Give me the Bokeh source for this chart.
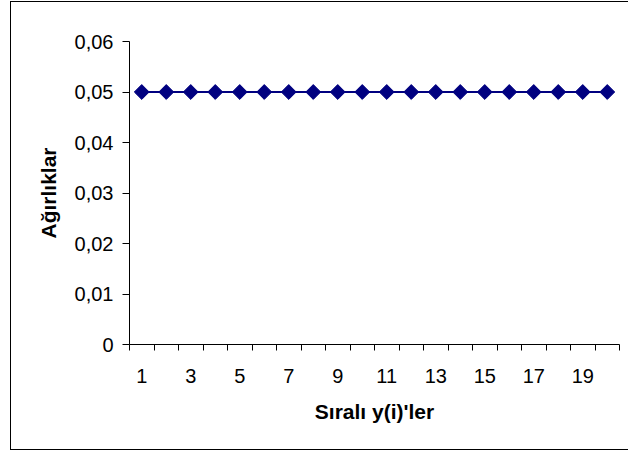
import math

from bokeh.embed import file_html
from bokeh.models import ColumnDataSource, CustomJSTickFormatter, FixedTicker, Range1d
from bokeh.plotting import figure
from bokeh.resources import INLINE

# Sıra numaraları ve her birine ait ağırlık
order = [1, 2, 3, 4, 5, 6, 7, 8, 9, 10, 11, 12, 13, 14, 15, 16, 17, 18, 19, 20]
weights = [0.05, 0.05, 0.05, 0.05, 0.05, 0.05, 0.05, 0.05, 0.05, 0.05,
           0.05, 0.05, 0.05, 0.05, 0.05, 0.05, 0.05, 0.05, 0.05, 0.05]

x_labels = [1, 3, 5, 7, 9, 11, 13, 15, 17, 19]
y_ticks = [0, 0.01, 0.02, 0.03, 0.04, 0.05, 0.06]

NAVY = "#000080"
FONT = "Liberation Sans"

source = ColumnDataSource(data=dict(x=order, y=weights))

p = figure(
    width=618, height=449,
    margin=(1, 0, 0, 10),
    output_backend="svg", toolbar_location=None,
    x_range=Range1d(0.5, len(order) + 0.5),
    y_range=Range1d(0, 0.06),
    min_border_left=118, min_border_right=10,
    min_border_top=39, min_border_bottom=107,
)
# grafik alanını çevreleyen çerçeve (sağ kenar pencerenin dışında kalır)
p.styles = {
    "border-left": "1px solid black",
    "border-top": "1px solid black",
    "border-bottom": "1px solid black",
}
p.outline_line_color = None
p.grid.grid_line_color = None
p.background_fill_color = "white"
p.border_fill_color = "white"

p.line("x", "y", source=source, line_color=NAVY, line_width=2.2)
p.scatter("x", "y", source=source, marker="square", angle=math.pi / 4,
          size=10.5, fill_color=NAVY, line_color=NAVY)

# x ekseni: etiketler tek sayılarda, çentikler kategori aralarında
xa = p.xaxis[0]
xa.ticker = FixedTicker(ticks=x_labels,
                        minor_ticks=[v - 0.5 for v in order] + [order[-1] + 0.5])
xa.major_tick_out = 0
xa.major_tick_in = 0
xa.minor_tick_out = 6
xa.minor_tick_in = 0
xa.minor_tick_line_color = "black"
xa.axis_line_color = "black"
xa.major_label_standoff = 18
xa.major_label_text_font = FONT
xa.major_label_text_font_size = "20px"
xa.major_label_text_color = "black"
xa.axis_label = "Sıralı y(i)'ler"
xa.axis_label_text_font = FONT
xa.axis_label_text_font_size = "21px"
xa.axis_label_text_font_style = "bold"
xa.axis_label_text_color = "black"
xa.axis_label_standoff = 14

ya = p.yaxis[0]
ya.ticker = FixedTicker(ticks=y_ticks, minor_ticks=[])
ya.formatter = CustomJSTickFormatter(
    code="return tick === 0 ? '0' : tick.toFixed(2).replace('.', ',');")
ya.major_tick_out = 7
ya.major_tick_in = 0
ya.major_tick_line_color = "black"
ya.axis_line_color = "black"
ya.major_label_standoff = 9
ya.major_label_text_font = FONT
ya.major_label_text_font_size = "20px"
ya.major_label_text_color = "black"
ya.axis_label = "Ağırlıklar"
ya.axis_label_text_font = FONT
ya.axis_label_text_font_size = "21px"
ya.axis_label_text_font_style = "bold"
ya.axis_label_text_color = "black"
ya.axis_label_standoff = 12

open("out.html", "w").write(file_html(p, INLINE))
